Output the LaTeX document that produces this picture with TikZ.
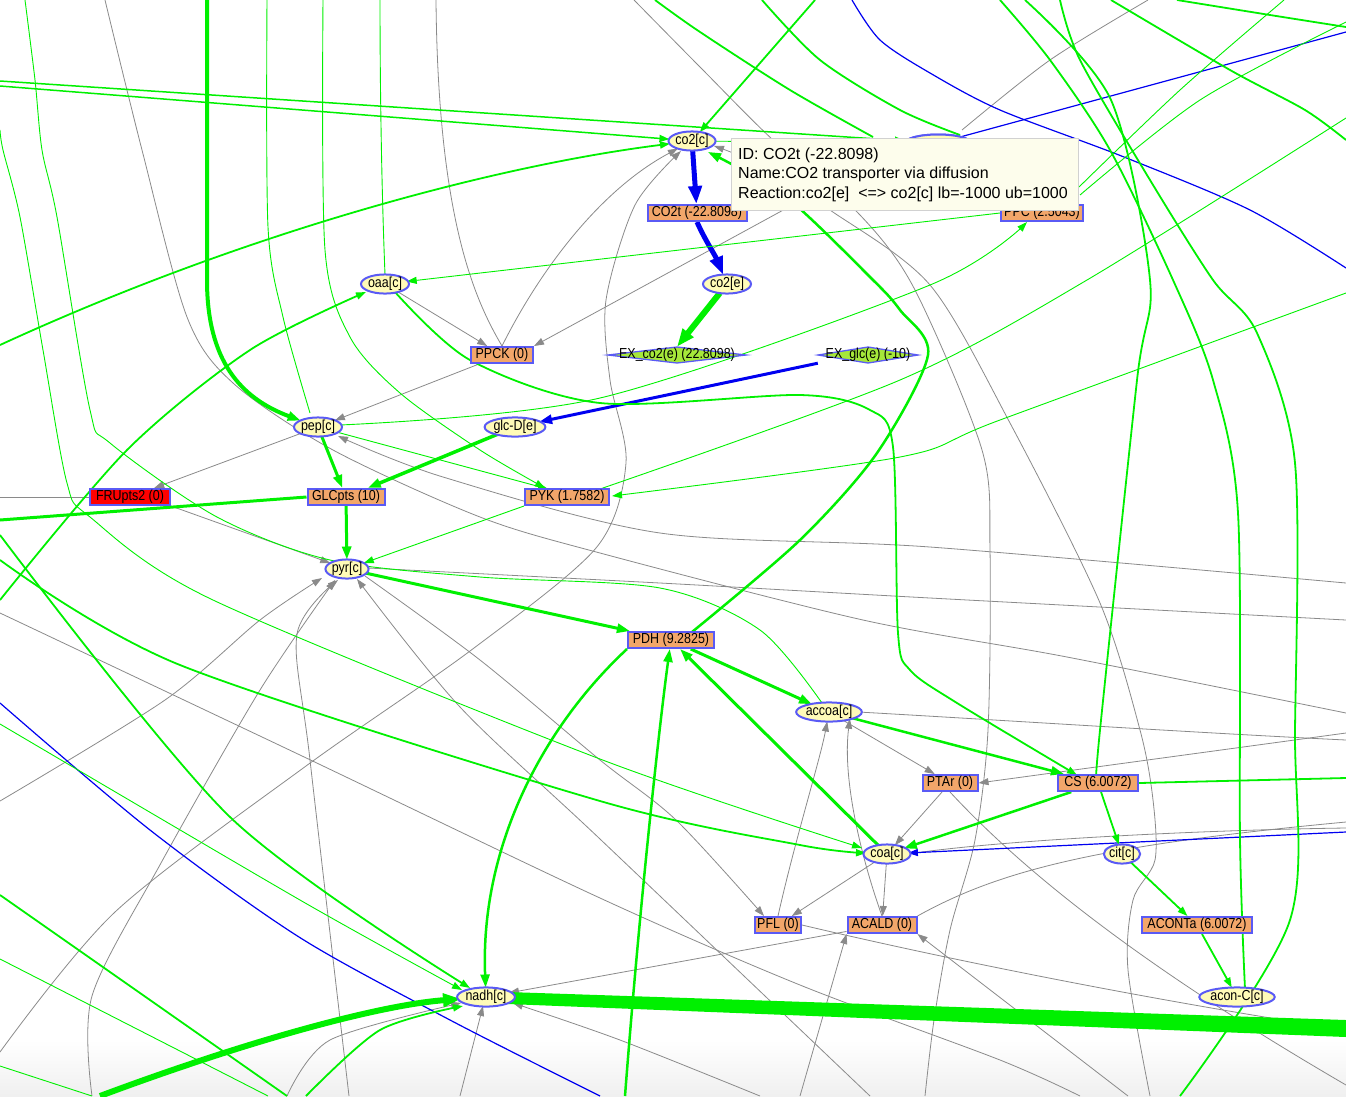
\documentclass[tikz,border=0pt]{standalone}
\usepackage{fontspec}
\usepackage{graphicx}
\setmainfont{Liberation Sans}
\usetikzlibrary{shapes.geometric,arrows.meta}
\definecolor{gg}{HTML}{00F000}
\definecolor{gr}{HTML}{8A8A8A}
\definecolor{bb}{HTML}{0000F0}
\definecolor{metfill}{HTML}{FFFBB8}
\definecolor{rxfill}{HTML}{F2A66A}
\definecolor{nodeline}{HTML}{5A5AF5}
\definecolor{exfill}{HTML}{A6E83A}
\definecolor{tipfill}{HTML}{FDFDEC}
\newcommand\nlfont{\fontsize{14.5}{14.5}\selectfont}
\newcommand\ttipfont{\fontsize{16}{16}\selectfont}
\newcommand\cnd[1]{\scalebox{0.86}[1]{#1}}
\tikzset{
  met/.style={ellipse, draw=nodeline, line width=2pt, fill=metfill, inner sep=0pt, minimum height=17pt, font=\nlfont},
  rxn/.style={rectangle, draw=nodeline, line width=2pt, fill=rxfill, inner sep=0pt, minimum height=16pt, font=\nlfont},
  exr/.style={rectangle, inner sep=0pt, minimum height=16pt, font=\nlfont},
  gth/.style={draw=gg, line width=0.9pt},
  gmd/.style={draw=gg, line width=1.8pt},
  gtk/.style={draw=gg, line width=3pt},
  gry/.style={draw=gr, line width=0.8pt},
  blu/.style={draw=bb, line width=1.2pt},
  tipS/.style={-{Triangle[length=10pt,width=7pt]}},
  tipM/.style={-{Triangle[length=13pt,width=9pt]}},
  tipL/.style={-{Triangle[length=18pt,width=13pt]}},
}
\begin{document}
\begin{tikzpicture}[x=1pt,y=-1pt]
\useasboundingbox (0,0) rectangle (1346,1096);
\shade[top color=white, bottom color=black!6] (0,1040) rectangle (1346,1096);

% ---------------- nodes (placed first so edges can refer) ----------------
\path
  node[met, minimum width=44pt] (co2c) at (692,141) {}
  node[met, minimum width=66pt] (hid) at (938,143) {}
  node[met, minimum width=42pt] (co2e) at (727,284) {}
  node[met, minimum width=43pt] (oaac) at (385,284) {}
  node[met, minimum width=45pt] (pepc) at (318,427) {}
  node[met, minimum width=55pt] (glcDe) at (515,427) {}
  node[met, minimum width=41pt] (pyrc) at (347,569) {}
  node[met, minimum width=57pt] (accoac) at (829,712) {}
  node[met, minimum width=40pt] (coac) at (887,854) {}
  node[met, minimum width=35pt] (citc) at (1122,854) {}
  node[met, minimum width=49pt] (nadhc) at (486,997) {}
  node[met, minimum width=65pt] (aconCc) at (1237,997) {}
  node[rxn, minimum width=99pt] (CO2t) at (697,213) {}
  node[rxn, minimum width=82pt] (PPC) at (1042,213) {}
  node[rxn, minimum width=62pt] (PPCK) at (502,355) {}
  node[rxn, minimum width=80pt, fill=red] (FRUpts2) at (130,497) {}
  node[rxn, minimum width=77pt] (GLCpts) at (346,497) {}
  node[rxn, minimum width=84pt] (PYK) at (567,497) {}
  node[rxn, minimum width=86pt] (PDH) at (671,640) {}
  node[rxn, minimum width=55pt] (PTAr) at (950,783) {}
  node[rxn, minimum width=80pt] (CS) at (1098,783) {}
  node[rxn, minimum width=46pt] (PFL) at (778,925) {}
  node[rxn, minimum width=69pt] (ACALD) at (882,925) {}
  node[rxn, minimum width=110pt] (ACONTa) at (1197,925) {}
  node[exr, minimum width=138pt] (EXco2) at (677,355) {}
  node[exr, minimum width=100pt] (EXglc) at (868,355) {};

% ---------------- gray edges ----------------
\draw[gry] (0,497) -- (FRUpts2);
\draw[gry,tipS] (pepc) -- (FRUpts2);
\draw[gry,tipS] (FRUpts2.south east) -- (pyrc);
\draw[gry,tipS] (oaac) -- (PPCK);
\draw[gry,tipS] (820,190) -- (PPCK.north east);
\draw[gry] (PPCK.north) .. controls (475,300) and (438,220) .. (436,0);
\draw[gry,tipS] (PPCK.north) .. controls (540,270) and (600,190) .. (co2c);
\draw[gry,tipS] (PPCK) -- (pepc);
\draw[gry,tipS] plot[smooth] coordinates {(0,1052) (115,912) (306,766) (470,651) (596,548) (626,463) (610,380) (606,300) (635,205) (681,151)};
\draw[gry,tipS] plot[smooth] coordinates {(0,801) (165,700) (260,620) (322,578)};
\draw[gry,tipS] plot[smooth] coordinates {(92,1096) (92,996) (161,863) (260,690) (335,580)};
\draw[gry,tipS] plot[smooth] coordinates {(349,1096) (310,760) (297,634) (338,580)};
\draw[gry,tipS] plot[smooth] coordinates {(870,1096) (600,839) (460,707) (357,579)};
\draw[gry,tipS] plot[smooth] coordinates {(365,576) (480,660) (600,760) (676,820) (764,916)};
\draw[gry,tipS] (PFL.north) .. controls (795,840) and (820,760) .. (accoac);
\draw[gry,tipS] (coac) -- (PFL);
\draw[gry,tipS] (coac) -- (ACALD);
\draw[gry,tipS] (ACALD.north) .. controls (862,860) and (842,780) .. (accoac.south east);
\draw[gry,tipS] (ACALD) -- (nadhc);
\draw[gry] (ACALD.north east) .. controls (1000,870) and (1100,845) .. (1346,822);
\draw[gry] (PFL.east) .. controls (950,960) and (1150,1000) .. (1346,1030);
\draw[gry] (accoac.east) .. controls (1000,720) and (1200,733) .. (1346,740);
\draw[gry,tipS] (1346,733) -- (PTAr.east);
\draw[gry,tipS] (accoac) -- (PTAr);
\draw[gry,tipS] (PTAr) -- (coac);
\draw[gry] (PTAr.south) .. controls (1050,900) and (1200,1000) .. (1346,1085);
\draw[gry] (coac.east) .. controls (1000,840) and (1200,830) .. (1346,828);
\draw[gry,tipS] plot[smooth] coordinates {(1346,583) (930,547) (660,533) (443,477) (338,436)};
\draw[gry] plot[smooth] coordinates {(105,0) (142,150) (187,317) (233,383) (333,450) (480,517) (600,553) (863,620) (1067,657) (1346,713)};
\draw[gry] plot[smooth] coordinates {(368,568) (660,583) (930,598) (1346,620)};
\draw[gry] plot[smooth] coordinates {(634,0) (700,67) (773,140) (860,215) (915,290) (982,450) (990,550) (988,730) (975,840) (950,930) (934,1020) (925,1096)};
\draw[gry,tipS] plot[smooth] coordinates {(1150,1096) (1128,970) (1133,900) (1155,860) (1153,800) (1140,730) (1100,603) (1010,423) (930,285) (830,210) (760,165) (714,146)};
\draw[gry] plot[smooth] coordinates {(1148,0) (1050,60) (962,130)};
\draw[gry] plot[smooth] coordinates {(0,613) (300,755) (600,898) (800,985) (1000,1060) (1080,1096)};
\draw[gry,tipS] plot[smooth] coordinates {(287,1096) (330,1040) (461,1003)};
\draw[gry,tipS] (460,1096) -- (483,1006);
\draw[gry,tipS] plot[smooth] coordinates {(760,1096) (620,1040) (513,1003)};
\draw[gry,tipS] (800,1096) -- (ACALD.south west);
\draw[gry,tipS] (1128,1096) -- (ACALD.south east);

% ---------------- blue edges ----------------
\draw[blu] (1346,32) -- (hid);
\draw[blu] plot[smooth] coordinates {(852,0) (880,40) (930,73) (1000,110) (1124,157) (1250,210) (1346,268)};
\draw[blu] plot[smooth] coordinates {(0,703) (150,830) (299,937) (450,1020) (600,1096)};
\draw[blu,tipS] (1346,832) -- (coac);
\draw[draw=bb, line width=3pt, tipM] (EXglc.south west) -- (glcDe);
\draw[draw=bb, line width=5pt, tipL] (co2c) -- (CO2t);
\draw[draw=bb, line width=5pt, tipL] (CO2t.south) .. controls (705,240) and (715,255) .. (co2e);

% ---------------- green edges ----------------
\draw[draw=gg, line width=6pt, tipL] (co2e) -- (EXco2.north);
\draw[draw=gg, line width=3.5pt, tipM] (glcDe) -- (GLCpts);
\draw[gtk, tipM] (pepc) -- (GLCpts);
\draw[gtk, tipM] (GLCpts) -- (pyrc);
\draw[gtk] (GLCpts.west) -- (0,520);
\draw[draw=gg, line width=4pt, tipM] (207,0) -- (207,280) .. controls (207,360) and (240,398) .. (pepc);
\draw[gth, tipS] (pepc) -- (548,489);
\draw[gth, tipS] plot[smooth] coordinates {(340,425) (600,398) (930,285) (1027,222)};
\draw[gth, tipS] (PYK.south west) -- (pyrc);
\draw[gth, tipS] plot[smooth] coordinates {(1346,293) (1000,420) (900,457) (612,496)};
\draw[gth] plot[smooth] coordinates {(600,489) (900,380) (1087,280) (1346,118)};
\draw[gth, tipS] plot[smooth] coordinates {(323,0) (325,250) (350,337) (400,393) (480,450) (545,488)};
\draw[gth] plot[smooth] coordinates {(267,0) (268,227) (283,317) (310,413)};
\draw[gth] plot[smooth] coordinates {(25,0) (35,80) (42,150) (57,217) (90,410) (110,443) (217,517) (330,560) (480,577) (660,588) (760,630) (822,703)};
\draw[gth, tipS] plot[smooth] coordinates {(0,130) (3,150) (20,217) (43,350) (67,483) (90,517) (213,600) (600,759) (862,848)};
\draw[gtk, tipM] (pyrc) -- (PDH);
\draw[gtk, tipM] (PDH) -- (accoac);
\draw[gtk, tipM] (coac) -- (PDH);
\draw[draw=gg, line width=2.5pt, tipM] (625,1096) .. controls (640,900) and (660,720) .. (PDH);
\draw[draw=gg, line width=2.5pt, tipM] (PDH.south west) .. controls (540,730) and (480,850) .. (nadhc);
\draw[draw=gg, line width=2.5pt, tipM] plot[smooth] coordinates {(692,632) (800,540) (877,453) (928,355) (900,310) (873,280) (786,197) (708,152)};
\draw[draw=gg, line width=2.5pt, tipM] (accoac) -- (CS);
\draw[draw=gg, line width=2.5pt, tipM] (CS) -- (coac);
\draw[gmd, tipS] (CS) -- (citc);
\draw[gmd, tipS] (citc) -- (ACONTa);
\draw[gmd, tipS] (ACONTa) -- (aconCc);
\draw[gmd] plot[smooth] coordinates {(1245,989) (1240,840) (1238,513) (1213,380) (1173,280) (1110,150) (1050,60) (1000,0)};
\draw[gmd] plot[smooth] coordinates {(1180,1096) (1290,920) (1295,730) (1295,463) (1257,333) (1213,280) (1150,180) (1080,60) (1060,0)};
\draw[gmd, tipS] plot[smooth] coordinates {(1025,0) (1111,100) (1150,280) (1137,380) (1100,730) (1097,775)};
\draw[gmd] (CS.east) -- (1346,778);
\draw[gmd] plot[smooth] coordinates {(1111,0) (1230,70) (1305,110) (1346,140)};
\draw[gmd] plot[smooth] coordinates {(1177,0) (1270,15) (1346,27)};
\draw[gth] plot[smooth] coordinates {(1284,0) (1180,90) (1079,187)};
\draw[gth] plot[smooth] coordinates {(1346,22) (1200,100) (1080,195)};
\fill[gg] (508,992) -- (1346,1020) -- (1346,1037) -- (508,1004) -- cycle;
\draw[draw=gg, line width=6pt, tipL] (100,1096) .. controls (250,1040) and (380,1005) .. (nadhc);
\draw[gmd, tipS] plot[smooth] coordinates {(0,535) (230,817) (470,988)};
\draw[gth, tipS] plot[smooth] coordinates {(0,724) (300,900) (462,990)};
\draw[gmd] plot[smooth] coordinates {(0,895) (150,1000) (287,1096)};
\draw[gth] plot[smooth] coordinates {(0,959) (268,1096)};
\draw[gth] plot[smooth] coordinates {(0,1066) (92,1096)};
\draw[gmd, tipS] plot[smooth] coordinates {(306,1096) (380,1030) (463,1006)};
\draw[gmd, tipS] plot[smooth] coordinates {(0,560) (180,665) (600,801) (800,845) (866,853)};
\draw[gmd, tipS] plot[smooth] coordinates {(0,600) (127,450) (250,350) (366,292)};
\draw[gth] (oaac.north) .. controls (382,200) and (380,100) .. (380,0);
\draw[gmd, tipS] plot[smooth] coordinates {(395,292) (470,360) (600,403) (800,395) (870,410) (893,447) (898,633) (910,670) (957,703) (1077,775)};
\draw[gth, tipS] (PPC.west) -- (oaac);
\draw[draw=gg, line width=1.5pt, tipS] (0,86) -- (co2c);
\draw[draw=gg, line width=1.5pt, tipS] (0,81) -- (hid);
\draw[gmd, tipS] (0,345) .. controls (250,230) and (500,165) .. (co2c);
\draw[gmd, tipS] (815,0) -- (co2c);
\draw[gmd] plot[smooth] coordinates {(655,0) (700,32) (790,90) (873,137)};
\draw[gmd] plot[smooth] coordinates {(762,0) (820,60) (900,110) (960,135)};
\draw[gth] (co2c) -- (hid);

% ---------------- exchange diamonds ----------------
\filldraw[fill=exfill, draw=nodeline, line width=1.3pt] (608,355) -- (677,347) -- (746,355) -- (677,363) -- cycle;
\node[font=\nlfont, inner sep=0pt] (EXco2lbl) at (677,355) {\cnd{EX\_co2(e) (22.8098)}};
\filldraw[fill=exfill, draw=nodeline, line width=1.3pt] (818,355) -- (868,347) -- (918,355) -- (868,363) -- cycle;
\node[font=\nlfont, inner sep=0pt] (EXglclbl) at (868,355) {\cnd{EX\_glc(e) (-10)}};

% nodes drawn on top of edges
\path
  node[met, minimum width=44pt] at (co2c) {\cnd{co2[c]}}
  node[met, minimum width=66pt] at (hid) {}
  node[met, minimum width=42pt] at (co2e) {\cnd{co2[e]}}
  node[met, minimum width=43pt] at (oaac) {\cnd{oaa[c]}}
  node[met, minimum width=45pt] at (pepc) {\cnd{pep[c]}}
  node[met, minimum width=55pt] at (glcDe) {\cnd{glc-D[e]}}
  node[met, minimum width=41pt] at (pyrc) {\cnd{pyr[c]}}
  node[met, minimum width=57pt] at (accoac) {\cnd{accoa[c]}}
  node[met, minimum width=40pt] at (coac) {\cnd{coa[c]}}
  node[met, minimum width=35pt] at (citc) {\cnd{cit[c]}}
  node[met, minimum width=49pt] at (nadhc) {\cnd{nadh[c]}}
  node[met, minimum width=65pt] at (aconCc) {\cnd{acon-C[c]}}
  node[rxn, minimum width=99pt] at (CO2t) {\cnd{CO2t (-22.8098)}}
  node[rxn, minimum width=82pt] at (PPC) {\cnd{PPC (2.5043)}}
  node[rxn, minimum width=62pt] at (PPCK) {\cnd{PPCK (0)}}
  node[rxn, minimum width=80pt, fill=red] at (FRUpts2) {\cnd{FRUpts2 (0)}}
  node[rxn, minimum width=77pt] at (GLCpts) {\cnd{GLCpts (10)}}
  node[rxn, minimum width=84pt] at (PYK) {\cnd{PYK (1.7582)}}
  node[rxn, minimum width=86pt] at (PDH) {\cnd{PDH (9.2825)}}
  node[rxn, minimum width=55pt] at (PTAr) {\cnd{PTAr (0)}}
  node[rxn, minimum width=80pt] at (CS) {\cnd{CS (6.0072)}}
  node[rxn, minimum width=46pt] at (PFL) {\cnd{PFL (0)}}
  node[rxn, minimum width=69pt] at (ACALD) {\cnd{ACALD (0)}}
  node[rxn, minimum width=110pt] at (ACONTa) {\cnd{ACONTa (6.0072)}};

% ---------------- tooltip ----------------
\node[draw=black!18, fill=tipfill, line width=0.8pt, minimum width=347pt, minimum height=72pt, anchor=north west, inner sep=0pt] (tooltip) at (731,138) {};
\node[font=\ttipfont, anchor=west, inner sep=0pt] (tt1) at (738,155) {ID: CO2t (-22.8098)};
\node[font=\ttipfont, anchor=west, inner sep=0pt] (tt2) at (738,174) {Name:CO2 transporter via diffusion};
\node[font=\ttipfont, anchor=west, inner sep=0pt] (tt3) at (738,194) {Reaction:co2[e]\ \ <=> co2[c] lb=-1000 ub=1000};
\end{tikzpicture}
\end{document}
